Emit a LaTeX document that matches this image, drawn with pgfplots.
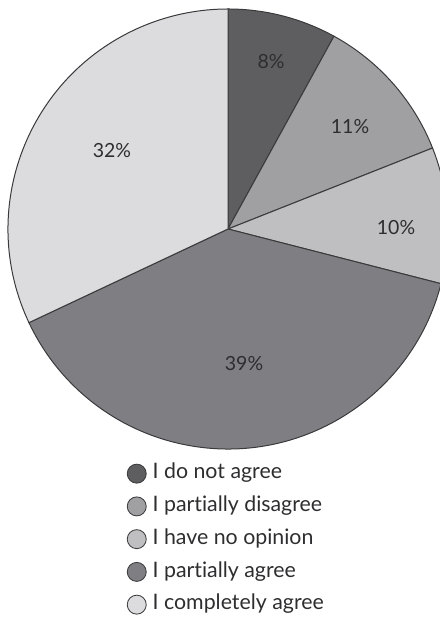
\documentclass[border=0pt]{standalone}
\usepackage{pgfplots}
\pgfplotsset{compat=1.18}
\usepackage{fontspec}
\setmainfont{Lato}[Ligatures=NoCommon]
\definecolor{cA}{HTML}{5E5E61}
\definecolor{cB}{HTML}{A0A0A3}
\definecolor{cC}{HTML}{BFBFC2}
\definecolor{cD}{HTML}{7F7F83}
\definecolor{cE}{HTML}{DCDCDE}
\definecolor{edge}{HTML}{3A3A3C}
\definecolor{txt}{HTML}{2E2E30}
\begin{document}
\begin{tikzpicture}
% shares (percent), clockwise from 12 o'clock
\def\vA{8}\def\vB{11}\def\vC{10}\def\vD{39}\def\vE{32}
\pgfmathsetmacro\aA{90}
\pgfmathsetmacro\aB{\aA-3.6*\vA}
\pgfmathsetmacro\aC{\aB-3.6*\vB}
\pgfmathsetmacro\aD{\aC-3.6*\vC}
\pgfmathsetmacro\aE{\aD-3.6*\vD}
\pgfmathsetmacro\aF{\aE-3.6*\vE}
\def\R{220}
\def\Rc{132pt}
\begin{axis}[
  hide axis,
  x=0.6pt, y=0.6pt,
  scale only axis,
  xmin=-228, xmax=212,
  ymin=-391, ymax=229,
  clip=true,
  legend style={at={(axis cs:-101.5,-233.5)}, anchor=north west, draw=none, fill=none,
    font=\fontsize{12.8}{15}\selectfont\color{txt},
    row sep=6.65pt, column sep=1.2pt, inner sep=0pt,
    nodes={inner xsep=2.4pt, inner ysep=0pt, text height=9.6pt, text depth=3.4pt, anchor=west}},
  legend cell align=left,
  legend image code/.code={\draw[#1, line width=0.5pt] (0pt,0pt) circle (5.7pt);},
]
\addlegendimage{fill=cA, draw=edge}
\addlegendentry{I do not agree}
\addlegendimage{fill=cB, draw=edge}
\addlegendentry{I partially disagree}
\addlegendimage{fill=cC, draw=edge}
\addlegendentry{I have no opinion}
\addlegendimage{fill=cD, draw=edge}
\addlegendentry{I partially agree}
\addlegendimage{fill=cE, draw=edge}
\addlegendentry{I completely agree}

\filldraw[fill=cA, draw=edge, line width=0.6pt] (axis cs:0,0) -- (axis cs:{\R*cos(\aA)},{\R*sin(\aA)}) arc[start angle=\aA, end angle=\aB, radius=\Rc] -- cycle;
\filldraw[fill=cB, draw=edge, line width=0.6pt] (axis cs:0,0) -- (axis cs:{\R*cos(\aB)},{\R*sin(\aB)}) arc[start angle=\aB, end angle=\aC, radius=\Rc] -- cycle;
\filldraw[fill=cC, draw=edge, line width=0.6pt] (axis cs:0,0) -- (axis cs:{\R*cos(\aC)},{\R*sin(\aC)}) arc[start angle=\aC, end angle=\aD, radius=\Rc] -- cycle;
\filldraw[fill=cD, draw=edge, line width=0.6pt] (axis cs:0,0) -- (axis cs:{\R*cos(\aD)},{\R*sin(\aD)}) arc[start angle=\aD, end angle=\aE, radius=\Rc] -- cycle;
\filldraw[fill=cE, draw=edge, line width=0.6pt] (axis cs:0,0) -- (axis cs:{\R*cos(\aE)},{\R*sin(\aE)}) arc[start angle=\aE, end angle=\aF, radius=\Rc] -- cycle;

\begin{scope}[every node/.style={font=\fontsize{11.7}{13}\selectfont, text=txt}]
\node at (axis cs:43,167) {8\%};
\node at (axis cs:122,102) {11\%};
\node at (axis cs:168,1) {10\%};
\node at (axis cs:16,-135) {39\%};
\node at (axis cs:-116,78) {32\%};
\end{scope}
\end{axis}
\pgfresetboundingbox
\path[use as bounding box] (0,0) rectangle (264pt,372pt);
\end{tikzpicture}
\end{document}
